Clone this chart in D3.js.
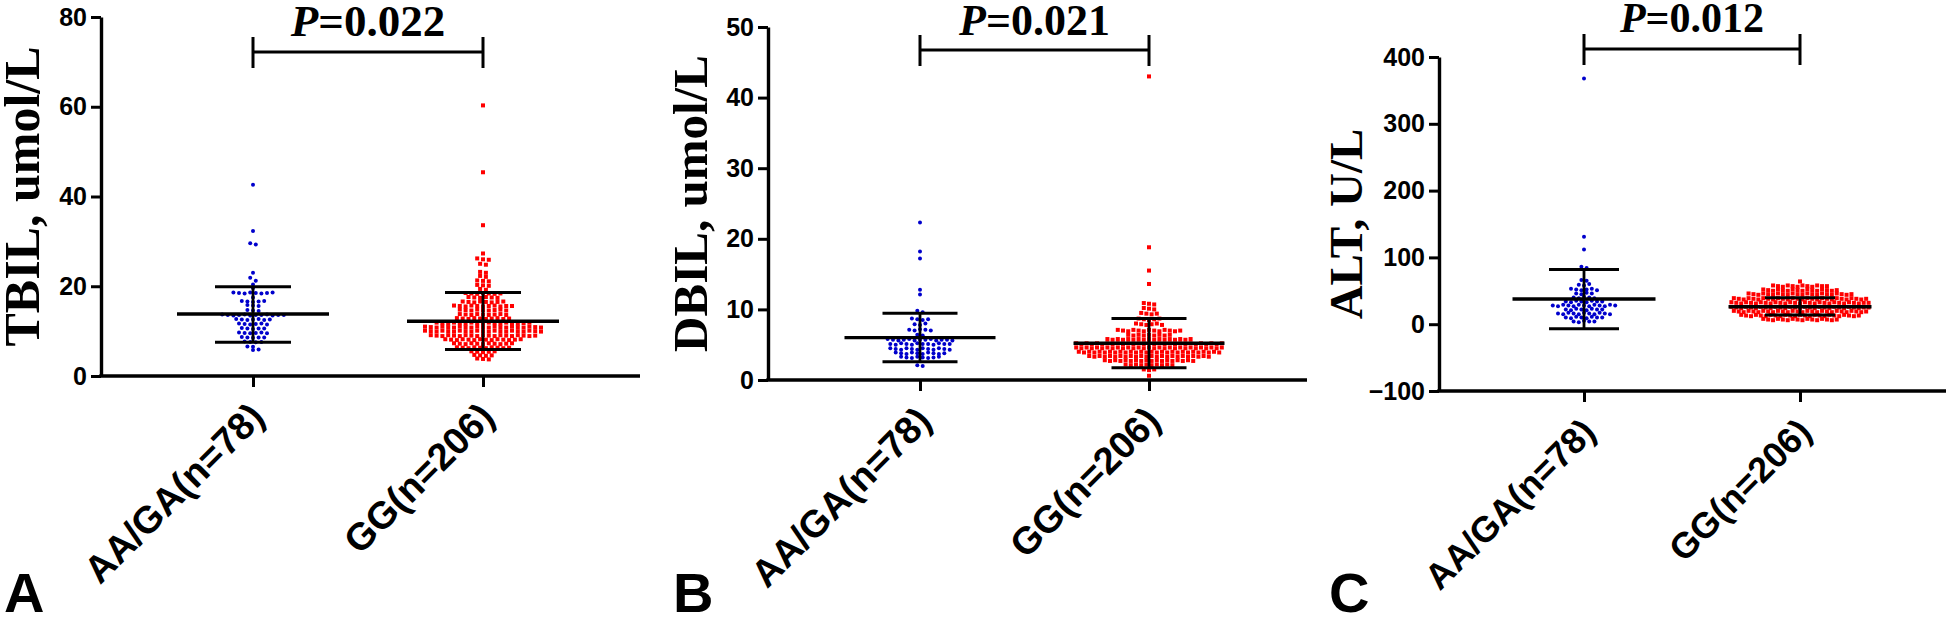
<!DOCTYPE html>
<html><head><meta charset="utf-8">
<script src="https://cdn.jsdelivr.net/npm/d3@7"></script>
<style>body{margin:0;background:#fff} svg{display:block}</style>
</head><body><svg id="chart" width="1946" height="617"></svg>
<script>
const categories = ["AA/GA(n=78)", "GG(n=206)"];
const panelLetters = ["A", "B", "C"];
const yTitles = ["TBIL, umol/L", "DBIL, umol/L", "ALT, U/L"];
const pLabels = ["=0.022", "=0.021", "=0.012"];
const yTicksA = [0, 20, 40, 60, 80];
const yTicksB = [0, 10, 20, 30, 40, 50];
const yTicksC = [-100, 0, 100, 200, 300, 400];

// mean and SD bounds per group [AA/GA, GG]
const meanA = [13.8, 12.2], sdLowA = [7.5, 5.9], sdHighA = [19.9, 18.6];
const meanB = [6.0, 5.2], sdLowB = [2.6, 1.75], sdHighB = [9.45, 8.7];
const meanC = [37.7, 26.2], sdLowC = [-6.7, 13.8], sdHighC = [82, 39.7];

const tbilAA = [42.6,32.3,29.6,29.3,23.0,21.9,21.2,20.4,19.6,
 18.6,18.5,18.4,18.6,18.5,18.4,18.5,18.6,17.5,
 16.7,16.6,16.5,16.6,16.7,15.8,15.7,15.6,14.7,14.6,14.5,
 13.7,13.6,13.5,13.6,13.7,13.5,13.6,13.6,13.7,13.5,13.6,13.6,
 12.7,12.6,12.5,12.6,12.7,12.5,12.6,11.7,11.6,11.5,11.6,11.7,11.5,
 10.7,10.6,10.5,10.6,10.6,9.7,9.6,9.5,9.6,9.7,9.5,
 8.7,8.6,8.5,8.6,8.6,7.7,7.6,7.5,7.6,6.6,6.5,5.9,5.8];
const tbilGG = [60.3,45.4,33.6,27.3,26.2,26.0,25.9,25.0,24.8,23.2,23.0,22.3,22.1,
 21.3,21.2,21.1,20.3,20.2,20.1,19.4,19.2,
 18.5,18.4,18.3,18.5,18.4,18.3,18.4,
 17.6,17.5,17.4,17.6,17.5,17.4,
 16.6,16.5,16.4,16.6,16.5,16.4,16.5,16.6,
 15.7,15.6,15.5,15.7,15.6,15.5,15.6,15.7,15.5,15.6,15.6,
 14.8,14.7,14.6,14.8,14.7,14.6,14.7,14.8,14.6,
 13.8,13.7,13.6,13.8,13.7,13.6,13.7,13.8,13.6,
 12.9,12.8,12.7,12.9,12.8,12.7,12.8,12.9,12.7,12.8,
 11.9,11.8,11.7,11.9,11.8,11.7,11.9,11.8,11.7,11.9,11.8,11.7,11.9,11.8,11.7,11.8,11.9,
 11.0,10.9,10.8,11.0,10.9,10.8,11.0,10.9,10.8,11.0,10.9,10.8,11.0,10.9,10.8,11.0,10.9,10.8,11.0,10.9,10.8,
 10.1,10.0,9.9,10.1,10.0,9.9,10.1,10.0,9.9,10.1,10.0,9.9,10.1,10.0,9.9,10.1,10.0,9.9,10.1,10.0,9.9,
 9.1,9.0,8.9,9.1,9.0,8.9,9.1,9.0,8.9,9.1,9.0,8.9,9.1,9.0,8.9,9.1,9.0,8.9,9.0,
 8.2,8.1,8.0,8.2,8.1,8.0,8.2,8.1,8.0,8.2,8.1,8.0,8.1,8.2,
 7.3,7.2,7.1,7.3,7.2,7.1,7.3,7.2,7.1,7.2,7.3,
 6.4,6.3,6.2,6.4,6.3,6.2,6.4,6.3,6.2,6.3,
 5.5,5.4,5.3,5.4,5.5,4.7,4.6,4.5,4.6,3.9,3.8,3.7];

const dbilAA = [22.3,18.2,17.2,12.8,12.1,9.8,9.6,8.7,8.6,8.5,8.6,7.9,7.8,8.0,
 7.1,7.0,7.2,7.1,7.0,6.4,6.3,
 5.8,5.7,5.6,5.7,5.8,5.6,5.7,5.7,5.8,5.6,5.7,5.7,5.6,
 5.1,5.0,5.2,5.1,5.0,5.2,5.1,5.1,5.0,5.2,5.1,5.1,
 4.5,4.4,4.3,4.5,4.4,4.3,4.5,4.4,4.3,4.5,4.4,4.3,
 3.9,3.8,3.7,3.9,3.8,3.7,3.9,3.8,3.7,3.8,
 3.3,3.2,3.1,3.3,3.2,3.1,3.2,3.3,2.1,2.0];
const dbilGG = [43.0,18.8,15.5,13.6,10.9,10.8,10.7,10.2,10.1,10.0,9.5,9.4,9.3,9.4,
 8.7,8.6,8.5,8.6,8.7,8.0,7.9,7.8,7.9,8.0,7.8,
 7.1,7.0,6.9,7.1,7.0,6.9,7.1,7.0,6.9,7.1,7.0,6.9,7.0,
 6.4,6.3,6.4,6.3,6.4,6.3,6.4,6.3,6.4,
 5.8,5.7,5.8,5.7,5.8,5.7,5.8,5.7,5.8,5.7,5.8,5.7,5.8,5.7,5.8,5.7,5.8,
 5.2,5.1,5.2,5.1,5.2,5.1,5.2,5.1,5.2,5.1,5.2,5.1,5.2,5.1,5.2,5.1,5.2,5.1,5.2,5.1,5.2,5.1,5.2,5.1,5.2,5.1,5.2,5.1,5.2,
 4.6,4.5,4.6,4.5,4.6,4.5,4.6,4.5,4.6,4.5,4.6,4.5,4.6,4.5,4.6,4.5,4.6,4.5,4.6,4.5,4.6,4.5,4.6,4.5,4.6,4.5,4.6,4.5,4.6,
 4.0,3.9,4.0,3.9,4.0,3.9,4.0,3.9,4.0,3.9,4.0,3.9,4.0,3.9,4.0,3.9,4.0,3.9,4.0,3.9,4.0,3.9,4.0,3.9,4.0,3.9,4.0,3.9,
 3.4,3.3,3.4,3.3,3.4,3.3,3.4,3.3,3.4,3.3,3.4,3.3,3.4,3.3,3.4,3.3,3.4,3.3,3.4,3.3,3.4,3.3,3.4,3.3,
 2.8,2.7,2.8,2.7,2.8,2.7,2.8,2.7,2.8,2.7,2.8,2.7,2.8,2.7,2.8,2.7,2.8,2.7,
 2.2,2.1,2.2,2.1,2.2,2.1,2.2,2.1,2.2,2.1,1.5,1.4,1.5,0.6];

const altAA = [368,131,112,86,84,66,65,59,58,60,
 53,52,51,52,53,51,46,45,47,46,40,39,41,40,39,
 34,33,35,34,33,35,34,34,
 28,27,29,28,27,29,28,27,29,28,27,29,28,
 22,21,23,22,21,23,22,22,
 16,15,17,16,15,17,16,15,17,16,15,
 10,9,11,10,9,11,10,10,4,3,5,4,4];
const altGG = [64,58,57,56,58,57,56,58,57,56,58,57,57,
 52,51,50,52,51,50,52,51,50,52,51,50,52,51,50,51,
 46,45,44,46,45,44,46,45,44,46,45,44,46,45,44,46,45,44,46,45,44,45,
 39,38,37,39,38,37,39,38,37,39,38,37,39,38,37,39,38,37,39,38,37,39,38,37,39,38,37,38,
 33,32,31,33,32,31,33,32,31,33,32,31,33,32,31,33,32,31,33,32,31,33,32,31,33,32,31,32,32,
 26,25,24,26,25,24,26,25,24,26,25,24,26,25,24,26,25,24,26,25,24,26,25,24,26,25,24,25,25,
 20,19,18,20,19,18,20,19,18,20,19,18,20,19,18,20,19,18,20,19,18,20,19,18,20,19,18,19,
 14,13,12,14,13,12,14,13,12,14,13,12,14,13,12,14,13,12,14,13,12,14,13,12,13,
 8,7,6,8,7,6,8,7,6,8,7,6,8,7,6,7];

const panels = [
 {letter: panelLetters[0], title: yTitles[0], p: pLabels[0], ticks: yTicksA, domain: [0, 80],
  values: [tbilAA, tbilGG], mean: meanA, lo: sdLowA, hi: sdHighA},
 {letter: panelLetters[1], title: yTitles[1], p: pLabels[1], ticks: yTicksB, domain: [0, 50],
  values: [dbilAA, dbilGG], mean: meanB, lo: sdLowB, hi: sdHighB},
 {letter: panelLetters[2], title: yTitles[2], p: pLabels[2], ticks: yTicksC, domain: [-100, 400],
  values: [altAA, altGG], mean: meanC, lo: sdLowC, hi: sdHighC}
];
const layouts = [
 {axisX: 101, yTop: 17, yBottom: 376, xEnd: 640, cat: [253, 483], titleX: 39, titleSize: 50, pY: 36, pSize: 45, bracketY: 52, labelSize: 38, mHalf: 76, sHalf: 38, letterX: 4, pitch: [5.6, 5.8]},
 {axisX: 768, yTop: 27, yBottom: 380, xEnd: 1307, cat: [920, 1149], titleX: 707, titleSize: 49, pY: 35, pSize: 44, bracketY: 50, labelSize: 38, mHalf: 75.5, sHalf: 37.5, letterX: 673, pitch: [5.4, 5.2]},
 {axisX: 1439, yTop: 57, yBottom: 391, xEnd: 1946, cat: [1584, 1800], titleX: 1362, titleSize: 47, pY: 32, pSize: 42, bracketY: 49, labelSize: 36, mHalf: 71.5, sHalf: 35, letterX: 1329, pitch: [5.2, 4.9]}
];
const colors = ["#0000cc", "#ff0000"];
const SANS = "'Liberation Sans', Arial, sans-serif";
const SERIF = "'Liberation Serif', 'Times New Roman', serif";

const svg = d3.select("#chart");

panels.forEach((P, pi) => {
  const L = layouts[pi];
  const g = svg.append("g");
  const y = d3.scaleLinear().domain(P.domain).range([L.yBottom, L.yTop]);
  const x = d3.scalePoint().domain(categories).range(L.cat);

  // dots (row-binned scatter like GraphPad)
  P.values.forEach((vals, gi) => {
    const pts = vals.map((v, i) => ({v, i, py: y(v)})).sort((a, b) => a.py - b.py || a.i - b.i);
    const rows = [];
    let cur = null;
    pts.forEach(p => {
      if (!cur || p.py - cur.start > 3.5) { cur = {start: p.py, pts: []}; rows.push(cur); }
      cur.pts.push(p);
    });
    const pitch = L.pitch[gi];
    rows.forEach(r => {
      r.pts.sort((a, b) => a.i - b.i);
      const n = r.pts.length;
      r.pts.forEach((p, k) => { p.px = x(categories[gi]) + (k - (n - 1) / 2) * pitch; });
    });
    if (gi === 0) {
      g.append("g").selectAll("circle").data(pts).join("circle")
        .attr("cx", d => d.px).attr("cy", d => d.py).attr("r", 2).attr("fill", colors[0]);
    } else {
      g.append("g").selectAll("rect").data(pts).join("rect")
        .attr("x", d => d.px - 2).attr("y", d => d.py - 2).attr("width", 4).attr("height", 4).attr("fill", colors[1]);
    }
  });

  // mean and SD bars
  categories.forEach((c, gi) => {
    const cx = x(c);
    const eb = g.append("g").attr("stroke", "#000").attr("stroke-linecap", "butt");
    eb.append("line").attr("x1", cx - L.mHalf).attr("x2", cx + L.mHalf)
      .attr("y1", y(P.mean[gi])).attr("y2", y(P.mean[gi])).attr("stroke-width", 3.4);
    eb.append("line").attr("x1", cx).attr("x2", cx)
      .attr("y1", y(P.lo[gi])).attr("y2", y(P.hi[gi])).attr("stroke-width", 2.8);
    [P.lo[gi], P.hi[gi]].forEach(v => {
      eb.append("line").attr("x1", cx - L.sHalf).attr("x2", cx + L.sHalf)
        .attr("y1", y(v)).attr("y2", y(v)).attr("stroke-width", 3);
    });
  });

  // y axis
  const ya = g.append("g").attr("transform", `translate(${L.axisX},0)`)
    .call(d3.axisLeft(y).tickValues(P.ticks).tickSize(10).tickSizeOuter(0).tickPadding(4));
  ya.select(".domain").attr("stroke", "#000").attr("stroke-width", 3.4);
  ya.selectAll(".tick line").attr("stroke", "#000").attr("stroke-width", 3);
  ya.selectAll(".tick text").attr("fill", "#000").style("font-family", SANS)
    .style("font-weight", "bold").style("font-size", "25px");

  // x axis
  g.append("line").attr("x1", L.axisX - 1.7).attr("x2", L.xEnd)
    .attr("y1", L.yBottom).attr("y2", L.yBottom).attr("stroke", "#000").attr("stroke-width", 3.4);
  const xa = g.append("g").attr("transform", `translate(0,${L.yBottom})`)
    .call(d3.axisBottom(x).tickSize(11).tickSizeOuter(0));
  xa.select(".domain").remove();
  xa.selectAll(".tick line").attr("stroke", "#000").attr("stroke-width", 3);
  xa.selectAll(".tick text").attr("fill", "#000").attr("y", 0).attr("dy", 0)
    .attr("text-anchor", "end")
    .attr("transform", "translate(13,43) rotate(-45)")
    .style("font-family", SANS).style("font-weight", "bold").style("font-size", L.labelSize + "px");

  // y title
  g.append("text").attr("transform", `translate(${L.titleX},${(L.yTop + L.yBottom) / 2}) rotate(-90)`)
    .attr("text-anchor", "middle").style("font-family", SERIF).style("font-weight", "bold")
    .style("font-size", L.titleSize + "px").text(P.title);

  // significance bracket
  const b = g.append("g").attr("stroke", "#000").attr("stroke-width", 3);
  b.append("line").attr("x1", L.cat[0]).attr("x2", L.cat[1]).attr("y1", L.bracketY).attr("y2", L.bracketY);
  L.cat.forEach(cx => b.append("line").attr("x1", cx).attr("x2", cx).attr("y1", L.bracketY - 15).attr("y2", L.bracketY + 16));
  const pt = g.append("text").attr("x", (L.cat[0] + L.cat[1]) / 2).attr("y", L.pY)
    .attr("text-anchor", "middle").style("font-family", SERIF).style("font-weight", "bold")
    .style("font-size", L.pSize + "px");
  pt.append("tspan").style("font-style", "italic").text("P");
  pt.append("tspan").text(P.p);

  // panel letter
  g.append("text").attr("x", L.letterX).attr("y", 612).style("font-family", SANS)
    .style("font-weight", "bold").style("font-size", "56px").text(P.letter);
});
</script></body></html>
